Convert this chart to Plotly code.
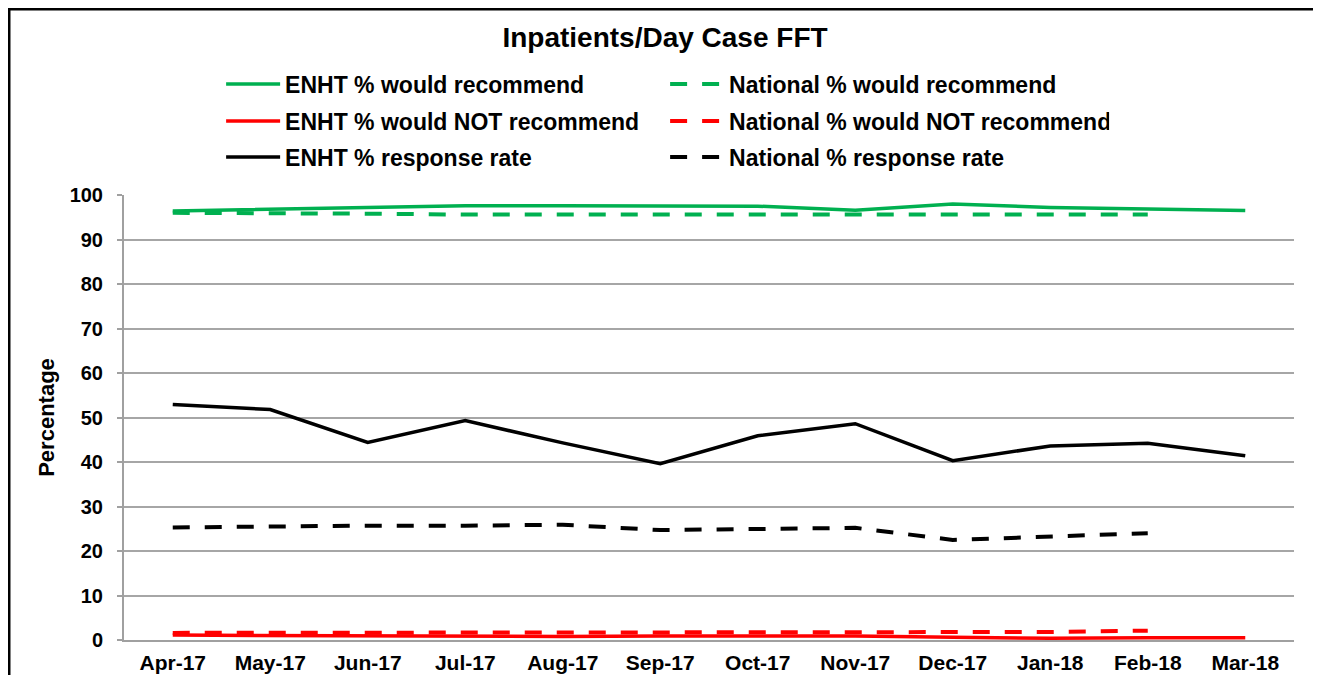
import plotly.graph_objects as go

months = ["Apr-17", "May-17", "Jun-17", "Jul-17", "Aug-17", "Sep-17",
          "Oct-17", "Nov-17", "Dec-17", "Jan-18", "Feb-18", "Mar-18"]

enht_recommend = [96.4, 96.8, 97.2, 97.6, 97.6, 97.6, 97.5, 96.6, 98.0, 97.2, 96.9, 96.5]
national_recommend = [96.0, 96.0, 95.8, 95.6, 95.7, 95.6, 95.6, 95.6, 95.6, 95.8, 95.6, None]

enht_not_recommend = [1.1, 1.0, 0.9, 0.8, 0.8, 0.9, 0.9, 0.9, 0.6, 0.4, 0.5, 0.5]
national_not_recommend = [1.6, 1.6, 1.6, 1.6, 1.6, 1.6, 1.6, 1.6, 1.6, 1.8, 2.1, None]

enht_response = [52.9, 51.8, 44.4, 49.3, 44.3, 39.6, 45.9, 48.6, 40.3, 43.6, 44.2, 41.4]
national_response = [25.3, 25.6, 25.7, 25.7, 25.9, 24.7, 24.9, 25.2, 22.5, 23.2, 24.0, None]

GREEN = "#00B050"
RED = "#FF0000"
BLACK = "#000000"
FONT = "Arial, Liberation Sans, sans-serif"
DASH = "17px,15px"

fig = go.Figure()

series = [
    ("ENHT % would recommend", enht_recommend, GREEN, "solid", "legend"),
    ("National % would recommend", national_recommend, GREEN, DASH, "legend"),
    ("ENHT % would NOT recommend", enht_not_recommend, RED, "solid", "legend2"),
    ("National % would NOT recommend", national_not_recommend, RED, DASH, "legend2"),
    ("ENHT % response rate", enht_response, BLACK, "solid", "legend3"),
    ("National % response rate", national_response, BLACK, DASH, "legend3"),
]
for name, vals, color, dash, leg in series:
    fig.add_trace(go.Scatter(
        x=months, y=vals, name=name, mode="lines",
        line=dict(color=color, width=4 if dash != "solid" else 3.5, dash=dash),
        legend=leg,
    ))

legend_style = dict(
    orientation="h", x=0.083, xanchor="left", yanchor="middle",
    font=dict(family=FONT, size=23, color="black", weight="bold"),
    itemwidth=54, entrywidth=375, bgcolor="rgba(0,0,0,0)",
    itemclick=False, itemdoubleclick=False,
)

# the page puts the figure 8px in from the top-left, so sizes allow for it
fig.update_layout(
    width=1313, height=667,
    margin=dict(l=116, r=27, t=187, b=35, autoexpand=False),
    paper_bgcolor="white", plot_bgcolor="white",
    font=dict(family=FONT, color="black"),
    title=dict(
        text="Inpatients/Day Case FFT", xref="container", x=0.5004, xanchor="center",
        yref="container", y=0.9565, yanchor="middle",
        font=dict(family=FONT, size=28, color="black", weight="bold"),
    ),
    legend=dict(legend_style, y=1.2494),
    legend2=dict(legend_style, y=1.1663),
    legend3=dict(legend_style, y=1.0854),
    showlegend=True,
)

fig.update_xaxes(
    type="category", range=[-0.5, 11.5],
    showline=True, linecolor="#A0A0A0", linewidth=2,
    showgrid=False, ticks="", ticklabelstandoff=3,
    tickfont=dict(family=FONT, size=21, color="black", weight="bold"),
)
fig.update_yaxes(
    range=[0, 100], dtick=10,
    showline=True, linecolor="#A0A0A0", linewidth=2,
    showgrid=True, gridcolor="#A6A6A6", gridwidth=1.5,
    ticks="outside", ticklen=5, tickcolor="#A0A0A0", tickwidth=1.5,
    ticklabelstandoff=10, zeroline=False,
    tickfont=dict(family=FONT, size=20, color="black", weight="bold"),
    title=dict(text="Percentage", standoff=9,
               font=dict(family=FONT, size=22, color="black", weight="bold")),
)

# black frame round the chart
fig.add_shape(type="rect", xref="paper", yref="paper",
              x0=-0.0983, x1=1.0197, y0=-0.2, y1=1.418,
              line=dict(color="black", width=3), fillcolor="rgba(0,0,0,0)")

fig.write_html("out.html")
